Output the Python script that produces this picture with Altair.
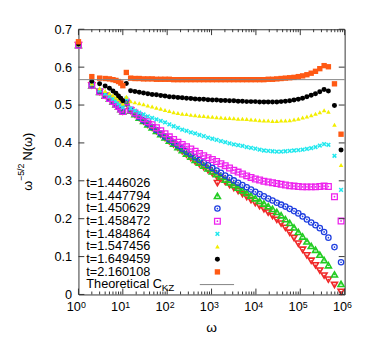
import altair as alt
import pandas as pd

# ---------------- data ----------------
omega = [1, 2, 3, 4, 5, 6, 7, 8, 9, 10,
         12, 15, 18.75, 23.44, 29.30, 36.62, 45.78, 57.22, 71.53, 89.41,
         111.8, 139.7, 174.6, 218.3, 272.8, 341.1, 426.3, 532.9, 666.1, 832.7,
         1041, 1301, 1626, 2033, 2541, 3176, 3970, 4963, 6204, 7755,
         9694, 12117, 15146, 18933, 23666, 29583, 36979, 46223, 57779, 72224,
         90280, 112850, 141063, 176328, 220410, 275513, 344391, 430489,
         590000, 830000]

labels = ["t=1.446026", "t=1.447794", "t=1.450629", "t=1.458472",
          "t=1.484864", "t=1.547456", "t=1.649459", "t=2.160108"]
theory_label = "Theoretical C"
theory_sub = "KZ"
C_KZ = 0.567

s_1446026 = [0.658, 0.552, 0.535, 0.525, 0.517, 0.509, 0.502, 0.496, 0.489, 0.483,
             0.504, 0.485, 0.475, 0.466, 0.457, 0.448, 0.440, 0.431, 0.422, 0.413,
             0.404, 0.396, 0.387, 0.378, 0.369, 0.360, 0.351, 0.344, 0.336, 0.328,
             0.320, 0.312, 0.305, 0.297, 0.289, 0.281, 0.273, 0.265, 0.257, 0.249,
             0.241, 0.233, 0.225, 0.216, 0.207, 0.197, 0.187, 0.176, 0.163, 0.149,
             0.134, 0.118, 0.103, 0.089, 0.077, 0.063, 0.050, 0.039, 0.025, 0.007]
s_1447794 = [0.658, 0.552, 0.535, 0.525, 0.517, 0.509, 0.502, 0.496, 0.489, 0.483,
             0.505, 0.485, 0.476, 0.467, 0.458, 0.449, 0.441, 0.432, 0.423, 0.415,
             0.406, 0.398, 0.389, 0.381, 0.372, 0.364, 0.355, 0.348, 0.340, 0.333,
             0.325, 0.318, 0.311, 0.303, 0.296, 0.289, 0.282, 0.275, 0.268, 0.261,
             0.254, 0.247, 0.240, 0.233, 0.226, 0.218, 0.209, 0.199, 0.189, 0.177,
             0.165, 0.153, 0.140, 0.128, 0.118, 0.105, 0.091, 0.077, 0.053, 0.028]
s_1450629 = [0.659, 0.553, 0.535, 0.525, 0.517, 0.509, 0.502, 0.496, 0.489, 0.483,
             0.506, 0.486, 0.477, 0.468, 0.459, 0.451, 0.442, 0.434, 0.425, 0.417,
             0.409, 0.401, 0.393, 0.385, 0.377, 0.370, 0.362, 0.355, 0.348, 0.341,
             0.334, 0.327, 0.321, 0.314, 0.308, 0.301, 0.295, 0.289, 0.283, 0.277,
             0.271, 0.265, 0.259, 0.253, 0.248, 0.242, 0.237, 0.232, 0.226, 0.220,
             0.214, 0.206, 0.198, 0.190, 0.183, 0.175, 0.165, 0.150, 0.125, 0.085]
s_1458472 = [0.658, 0.552, 0.535, 0.525, 0.517, 0.509, 0.502, 0.496, 0.489, 0.483,
             0.508, 0.487, 0.479, 0.472, 0.464, 0.456, 0.448, 0.440, 0.432, 0.424,
             0.416, 0.409, 0.402, 0.396, 0.390, 0.384, 0.378, 0.372, 0.366, 0.361,
             0.356, 0.351, 0.345, 0.340, 0.334, 0.328, 0.323, 0.318, 0.313, 0.309,
             0.305, 0.302, 0.299, 0.297, 0.295, 0.293, 0.291, 0.289, 0.287, 0.286,
             0.285, 0.284, 0.284, 0.284, 0.284, 0.285, 0.286, 0.285, 0.258, 0.194]
s_1484864 = [0.660, 0.555, 0.539, 0.530, 0.523, 0.516, 0.510, 0.504, 0.499, 0.494,
             0.517, 0.491, 0.485, 0.480, 0.475, 0.470, 0.466, 0.462, 0.458, 0.454,
             0.449, 0.444, 0.440, 0.435, 0.432, 0.428, 0.425, 0.421, 0.418, 0.414,
             0.411, 0.408, 0.405, 0.402, 0.399, 0.396, 0.394, 0.392, 0.389, 0.387,
             0.385, 0.382, 0.380, 0.379, 0.378, 0.377, 0.377, 0.378, 0.379, 0.380,
             0.381, 0.382, 0.384, 0.386, 0.389, 0.393, 0.397, 0.395, 0.366, 0.276]
s_1547456 = [0.660, 0.557, 0.544, 0.537, 0.531, 0.526, 0.520, 0.515, 0.510, 0.504,
             0.522, 0.510, 0.507, 0.505, 0.502, 0.499, 0.496, 0.493, 0.490, 0.487,
             0.484, 0.481, 0.479, 0.477, 0.476, 0.474, 0.473, 0.472, 0.471, 0.470,
             0.469, 0.468, 0.467, 0.466, 0.466, 0.465, 0.464, 0.464, 0.463, 0.462,
             0.461, 0.460, 0.459, 0.459, 0.458, 0.458, 0.459, 0.459, 0.460, 0.462,
             0.464, 0.467, 0.470, 0.473, 0.477, 0.481, 0.486, 0.482, 0.448, 0.342]
s_1649459 = [0.661, 0.563, 0.556, 0.550, 0.544, 0.537, 0.531, 0.524, 0.518, 0.511,
             0.557, 0.538, 0.536, 0.534, 0.532, 0.530, 0.528, 0.527, 0.525, 0.524,
             0.522, 0.521, 0.520, 0.519, 0.518, 0.517, 0.516, 0.515, 0.515, 0.514,
             0.513, 0.513, 0.512, 0.512, 0.511, 0.511, 0.510, 0.510, 0.509, 0.509,
             0.509, 0.508, 0.508, 0.508, 0.508, 0.508, 0.509, 0.510, 0.511, 0.513,
             0.515, 0.518, 0.522, 0.526, 0.530, 0.535, 0.541, 0.537, 0.499, 0.381]
s_2160108 = [0.667, 0.575, 0.571, 0.570, 0.569, 0.567, 0.565, 0.562, 0.558, 0.551,
             0.586, 0.571, 0.570, 0.570, 0.569, 0.569, 0.569, 0.568, 0.568, 0.568,
             0.568, 0.567, 0.567, 0.567, 0.567, 0.567, 0.567, 0.567, 0.567, 0.567,
             0.567, 0.567, 0.567, 0.567, 0.567, 0.567, 0.567, 0.567, 0.567, 0.567,
             0.567, 0.567, 0.567, 0.568, 0.568, 0.569, 0.570, 0.571, 0.572, 0.573,
             0.575, 0.577, 0.580, 0.584, 0.589, 0.596, 0.604, 0.601, 0.556, 0.423]

series_values = [s_1446026, s_1447794, s_1450629, s_1458472,
                 s_1484864, s_1547456, s_1649459, s_2160108]

y_ticks = [0, 0.1, 0.2, 0.3, 0.4, 0.5, 0.6, 0.7]
x_exps = [0, 1, 2, 3, 4, 5, 6]

# ---------------- styling ----------------
W, H = 272, 271
FONT = "Liberation Sans"
FRAME = "#333333"
cross_path = "M-1,-1L1,1M-1,1L1,-1"

styles = [
    dict(shape="triangle-down", color="#f02828", filled=False, size=38, sw=1.6, dot=True),
    dict(shape="triangle-up", color="#22cc22", filled=False, size=38, sw=1.6, dot=True),
    dict(shape="circle", color="#1f3fe0", filled=False, size=30, sw=1.3, dot=True),
    dict(shape="square", color="#ee22ee", filled=False, size=34, sw=1.3, dot=True),
    dict(shape=cross_path, color="#22e8ee", filled=False, size=14, sw=1.6, dot=False),
    dict(shape="triangle-up", color="#f2ee00", filled=True, size=22, sw=0, dot=False),
    dict(shape="circle", color="#000000", filled=True, size=26, sw=0, dot=False),
    dict(shape="square", color="#ff5a14", filled=True, size=30, sw=0, dot=False),
]

xs = alt.Scale(type="log", domain=[1, 1e6], nice=False)
ys = alt.Scale(domain=[0, 0.7], nice=False, zero=False)
yaxis = alt.Axis(values=y_ticks, format="~g", title=None, ticks=False, domain=False,
                 grid=False, labelFont=FONT, labelFontSize=13, labelColor="black",
                 labelPadding=7)
X = alt.X("omega:Q", scale=xs, axis=None)
Y = alt.Y("v:Q", scale=ys, axis=yaxis)


def point_kw(st):
    kw = dict(shape=st["shape"], size=st["size"], opacity=1)
    if st["filled"]:
        kw.update(filled=True, fill=st["color"], strokeWidth=0)
    else:
        kw.update(filled=False, stroke=st["color"], strokeWidth=st["sw"])
    return kw


layers = []

# data series
for vals, st in zip(series_values, styles):
    df = pd.DataFrame({"omega": omega, "v": vals})
    layers.append(alt.Chart(df).mark_point(**point_kw(st)).encode(x=X, y=Y))
    if st["dot"]:
        layers.append(alt.Chart(df).mark_point(shape="circle", filled=True, size=3,
                                               color=st["color"], opacity=1).encode(x=X, y=Y))

# theoretical line
layers.append(alt.Chart(pd.DataFrame({"v": [C_KZ]})).mark_rule(color="#808080", strokeWidth=1)
              .encode(y=Y, x=alt.value(0), x2=alt.value(W)))

# ticks
ytk = pd.DataFrame({"v": y_ticks})
layers.append(alt.Chart(ytk).mark_rule(color=FRAME).encode(y=Y, x=alt.value(0), x2=alt.value(6)))
layers.append(alt.Chart(ytk).mark_rule(color=FRAME).encode(y=Y, x=alt.value(W - 6), x2=alt.value(W)))
xmaj = pd.DataFrame({"omega": [10 ** e for e in x_exps]})
xmin = pd.DataFrame({"omega": [m * 10 ** e for e in x_exps[:-1] for m in range(2, 10)]})
for dfk, ln in ((xmaj, 6), (xmin, 3)):
    layers.append(alt.Chart(dfk).mark_rule(color=FRAME).encode(x=X, y=alt.value(H), y2=alt.value(H - ln)))
    layers.append(alt.Chart(dfk).mark_rule(color=FRAME).encode(x=X, y=alt.value(0), y2=alt.value(ln)))

# x tick labels 10^n
xlab = pd.DataFrame({"omega": [10 ** e for e in x_exps], "base": ["10"] * len(x_exps),
                     "exp": [str(e) for e in x_exps]})
layers.append(alt.Chart(xlab).mark_text(align="right", baseline="alphabetic", dx=2.5,
                                        font=FONT, fontSize=13, color="black")
              .encode(x=X, y=alt.value(H + 16.5), text="base:N"))
layers.append(alt.Chart(xlab).mark_text(align="left", baseline="alphabetic", dx=2.5,
                                        font=FONT, fontSize=9, color="black")
              .encode(x=X, y=alt.value(H + 13.5), text="exp:N"))

one = pd.DataFrame({"a": [0]})


def txt(s, x, y, size=13, angle=0, align="left", baseline="alphabetic"):
    return alt.Chart(one).mark_text(text=s, align=align, baseline=baseline, angle=angle,
                                    font=FONT, fontSize=size, color="black").encode(
        x=alt.value(x), y=alt.value(y))


# axis titles (positions relative to plot origin)
layers.append(txt("ω", W / 2, H + 38, size=14, align="center"))
layers.append(txt("ω", -47, 165, size=13, angle=270))
layers.append(txt("−5/2", -56, 155, size=9, angle=270))
layers.append(txt("N(ω)", -47, 134, size=13, angle=270))

# legend
for i, (lab, st) in enumerate(zip(labels, styles)):
    py = 157.3 + 12.95 * i
    layers.append(txt(lab, 8, py, size=13, baseline="middle"))
    layers.append(alt.Chart(one).mark_point(**point_kw(st)).encode(x=alt.value(142), y=alt.value(py)))
    if st["dot"]:
        layers.append(alt.Chart(one).mark_point(shape="circle", filled=True, size=3,
                                                color=st["color"], opacity=1)
                      .encode(x=alt.value(142), y=alt.value(py)))
py = 157.3 + 12.95 * 8
layers.append(txt(theory_label, 8, py, size=13, baseline="middle"))
layers.append(txt(theory_sub, 85, py + 4, size=10, baseline="middle"))
layers.append(alt.Chart(one).mark_rule(color="#808080", strokeWidth=1)
              .encode(x=alt.value(124), x2=alt.value(159), y=alt.value(py)))

chart = alt.layer(*layers).properties(
    width=W, height=H, autosize="none",
    padding={"left": 72, "top": 18, "right": 30, "bottom": 52},
).configure_view(stroke=FRAME, strokeWidth=1)

chart.save("out.html", embed_options={"renderer": "svg", "actions": False})
